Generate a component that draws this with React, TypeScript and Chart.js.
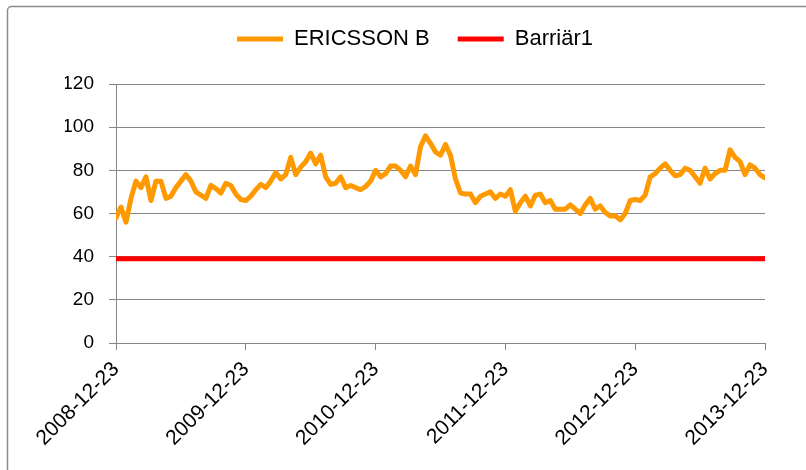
import React, { useEffect, useRef } from 'react';
import { Chart, registerables } from 'chart.js';

Chart.register(...registerables);

// Year tick labels on the date axis
const yearLabels = ['2008-12-23', '2009-12-23', '2010-12-23', '2011-12-23', '2012-12-23', '2013-12-23'];
// Observations per year (roughly two-weekly samples)
const pointsPerYear = 26;
// ERICSSON B closing prices, sampled about every two weeks
const ericssonB = [
  58, 63, 56, 67, 75, 72, 77, 66, 75, 75,
  67, 68, 72, 75, 78, 75, 70, 68.5, 67, 73,
  71.5, 69.5, 74, 73, 69, 66.5, 66, 68, 71, 73.5,
  72, 75, 79, 76, 78, 86, 78, 81.5, 84, 88,
  83, 87, 77, 73.5, 74, 77, 72, 73, 72, 71,
  72.5, 75, 80, 77, 78.5, 82, 82, 80, 77, 82,
  78, 91, 96, 92.5, 88.5, 87, 92, 87, 76, 69.5,
  69, 69, 65, 68, 69, 70, 67, 69, 68, 71,
  61, 65, 68, 63.5, 68.5, 69, 65, 66, 62, 62,
  62, 64, 62, 60, 64, 67, 62, 63.5, 60.5, 58.8,
  59, 57, 60, 66, 66.5, 66, 68.5, 77, 78.5, 81,
  83, 80, 77.5, 78, 81, 80, 77, 74, 81, 76,
  78.5, 80, 80, 89.5, 86, 84, 78, 82.5, 81, 78,
  76.5,
];
// Barrier level
const barrierLevel = 39;
const seriesNames = ['ERICSSON B', 'Barriär1'];
const yMin = 0;
const yMax = 120;
const yStep = 20;

const FONT = '"Liberation Sans", Arial, sans-serif';
const GRID = '#868686';

export default function App() {
  const ref = useRef<HTMLCanvasElement>(null);

  useEffect(() => {
    if (!ref.current) return;
    const lastIndex = ericssonB.length - 1;
    const chart = new Chart(ref.current, {
      type: 'line',
      data: {
        datasets: [
          {
            label: seriesNames[0],
            data: ericssonB.map((v, i) => ({ x: i, y: v })),
            borderColor: '#FF9900',
            backgroundColor: '#FF9900',
            borderWidth: 5,
            pointRadius: 0,
            tension: 0,
            borderJoinStyle: 'round',
            borderCapStyle: 'round',
          },
          {
            label: seriesNames[1],
            data: [
              { x: 0, y: barrierLevel },
              { x: lastIndex, y: barrierLevel },
            ],
            borderColor: '#FF0000',
            backgroundColor: '#FF0000',
            borderWidth: 5,
            pointRadius: 0,
            borderCapStyle: 'round',
          },
        ],
      },
      options: {
        responsive: false,
        animation: false,
        layout: { padding: { left: 65, right: 41, top: 0, bottom: 0 } },
        plugins: {
          tooltip: { enabled: false },
          legend: {
            position: 'top',
            labels: {
              usePointStyle: true,
              pointStyle: 'line',
              pointStyleWidth: 46,
              padding: 28,
              color: '#000',
              font: { family: FONT, size: 22 },
            },
          },
        },
        scales: {
          x: {
            type: 'linear',
            min: 0,
            max: lastIndex,
            afterFit: (s: any) => { s.height = 127; },
            afterBuildTicks: (s: any) => {
              s.ticks = yearLabels.map((_, i) => ({ value: i * pointsPerYear }));
            },
            ticks: {
              autoSkip: false,
              minRotation: 45,
              maxRotation: 45,
              padding: 7,
              color: '#000',
              font: { family: FONT, size: 21 },
              callback: (v: any) => yearLabels[Math.round(Number(v) / pointsPerYear)] ?? '',
            },
            grid: { drawOnChartArea: false, drawTicks: true, tickLength: 7, color: GRID, lineWidth: 1 },
            border: { display: true, color: GRID, width: 1 },
          },
          y: {
            min: yMin,
            max: yMax,
            afterFit: (s: any) => { s.width = 51; },
            ticks: {
              stepSize: yStep,
              padding: 15,
              color: '#000',
              font: { family: FONT, size: 19 },
            },
            grid: { color: GRID, lineWidth: 1, tickLength: 7, drawTicks: true },
            border: { display: true, color: GRID, width: 1 },
          },
        },
      },
      plugins: [
        {
          id: 'legendSpacing',
          beforeInit(c: any) {
            if (!c.legend) return;
            const orig = c.legend.fit;
            c.legend.fit = function () {
              orig.call(this);
              this.height += 24;
            };
          },
        },
        {
          id: 'frame',
          beforeDraw(c: any) {
            const ctx = c.ctx;
            ctx.save();
            ctx.fillStyle = '#fff';
            ctx.fillRect(0, 0, c.width, c.height);
            ctx.strokeStyle = '#8c8c8c';
            ctx.lineWidth = 1.5;
            ctx.beginPath();
            ctx.moveTo(7.5, c.height + 10);
            ctx.lineTo(7.5, 10);
            ctx.arcTo(7.5, 6.5, 11.5, 6.5, 4);
            ctx.lineTo(c.width + 10, 6.5);
            ctx.stroke();
            ctx.restore();
          },
        },
      ],
    });
    return () => chart.destroy();
  }, []);

  return (
    <div style={{ position: 'fixed', left: 0, top: 0, width: 806, height: 470, background: '#fff' }}>
      <canvas ref={ref} width={806} height={470} style={{ display: 'block' }} />
    </div>
  );
}
